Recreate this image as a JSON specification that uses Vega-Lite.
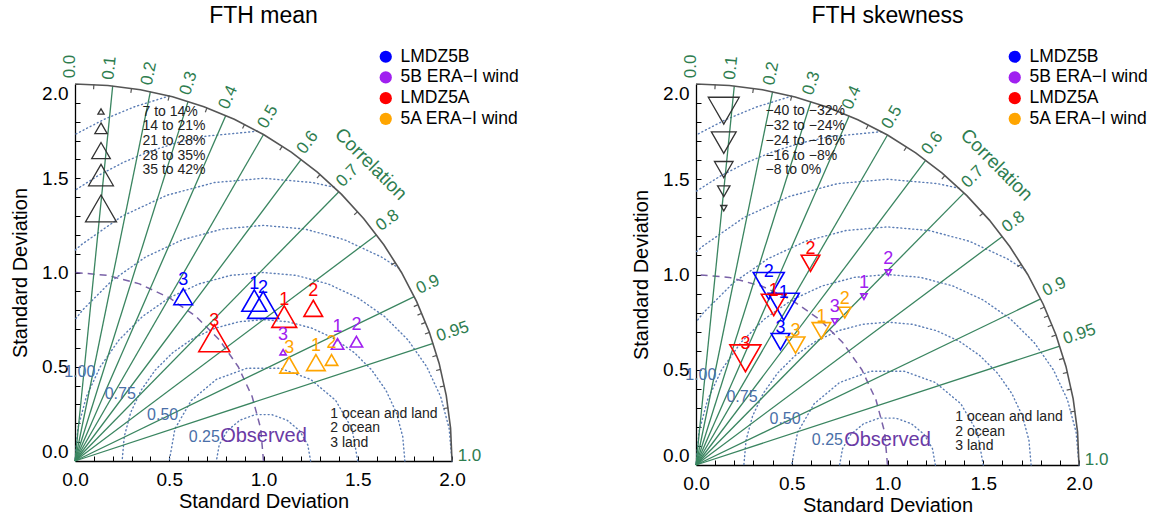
{
  "$schema": "https://vega.github.io/schema/vega-lite/v6.json",
  "autosize": {"type": "pad"},
  "padding": {"left": 10, "top": 5, "right": 4, "bottom": 2},
  "datasets": {
    "rms": [
      {"R": 0.25, "i": 0, "x": 1.25, "y": 0}, {"R": 0.25, "i": 1, "x": 1.2349, "y": 0.0855}, {"R": 0.25, "i": 2, "x": 1.1915, "y": 0.1607},
      {"R": 0.25, "i": 3, "x": 1.125, "y": 0.2165}, {"R": 0.25, "i": 4, "x": 1.0434, "y": 0.2462}, {"R": 0.25, "i": 5, "x": 0.9566, "y": 0.2462},
      {"R": 0.25, "i": 6, "x": 0.875, "y": 0.2165}, {"R": 0.25, "i": 7, "x": 0.8085, "y": 0.1607}, {"R": 0.25, "i": 8, "x": 0.7651, "y": 0.0855},
      {"R": 0.25, "i": 9, "x": 0.75, "y": 0},
      {"R": 0.5, "i": 0, "x": 1.5, "y": 0}, {"R": 0.5, "i": 1, "x": 1.4698, "y": 0.171}, {"R": 0.5, "i": 2, "x": 1.383, "y": 0.3214},
      {"R": 0.5, "i": 3, "x": 1.25, "y": 0.433}, {"R": 0.5, "i": 4, "x": 1.0868, "y": 0.4924}, {"R": 0.5, "i": 5, "x": 0.9132, "y": 0.4924},
      {"R": 0.5, "i": 6, "x": 0.75, "y": 0.433}, {"R": 0.5, "i": 7, "x": 0.617, "y": 0.3214}, {"R": 0.5, "i": 8, "x": 0.5302, "y": 0.171},
      {"R": 0.5, "i": 9, "x": 0.5, "y": 0},
      {"R": 0.75, "i": 0, "x": 1.75, "y": 0}, {"R": 0.75, "i": 1, "x": 1.7386, "y": 0.1302}, {"R": 0.75, "i": 2, "x": 1.7048, "y": 0.2565},
      {"R": 0.75, "i": 3, "x": 1.6495, "y": 0.375}, {"R": 0.75, "i": 4, "x": 1.5745, "y": 0.4821}, {"R": 0.75, "i": 5, "x": 1.4821, "y": 0.5745},
      {"R": 0.75, "i": 6, "x": 1.375, "y": 0.6495}, {"R": 0.75, "i": 7, "x": 1.2565, "y": 0.7048}, {"R": 0.75, "i": 8, "x": 1.1302, "y": 0.7386},
      {"R": 0.75, "i": 9, "x": 1, "y": 0.75}, {"R": 0.75, "i": 10, "x": 0.8698, "y": 0.7386}, {"R": 0.75, "i": 11, "x": 0.7435, "y": 0.7048},
      {"R": 0.75, "i": 12, "x": 0.625, "y": 0.6495}, {"R": 0.75, "i": 13, "x": 0.5179, "y": 0.5745}, {"R": 0.75, "i": 14, "x": 0.4255, "y": 0.4821},
      {"R": 0.75, "i": 15, "x": 0.3505, "y": 0.375}, {"R": 0.75, "i": 16, "x": 0.2952, "y": 0.2565}, {"R": 0.75, "i": 17, "x": 0.2614, "y": 0.1302},
      {"R": 0.75, "i": 18, "x": 0.25, "y": 0},
      {"R": 1, "i": 0, "x": 2, "y": 0}, {"R": 1, "i": 1, "x": 1.9848, "y": 0.1736}, {"R": 1, "i": 2, "x": 1.9397, "y": 0.342},
      {"R": 1, "i": 3, "x": 1.866, "y": 0.5}, {"R": 1, "i": 4, "x": 1.766, "y": 0.6428}, {"R": 1, "i": 5, "x": 1.6428, "y": 0.766},
      {"R": 1, "i": 6, "x": 1.5, "y": 0.866}, {"R": 1, "i": 7, "x": 1.342, "y": 0.9397}, {"R": 1, "i": 8, "x": 1.1736, "y": 0.9848},
      {"R": 1, "i": 9, "x": 1, "y": 1}, {"R": 1, "i": 10, "x": 0.8264, "y": 0.9848}, {"R": 1, "i": 11, "x": 0.658, "y": 0.9397},
      {"R": 1, "i": 12, "x": 0.5, "y": 0.866}, {"R": 1, "i": 13, "x": 0.3572, "y": 0.766}, {"R": 1, "i": 14, "x": 0.234, "y": 0.6428},
      {"R": 1, "i": 15, "x": 0.134, "y": 0.5}, {"R": 1, "i": 16, "x": 0.0603, "y": 0.342}, {"R": 1, "i": 17, "x": 0.0152, "y": 0.1736},
      {"R": 1, "i": 18, "x": 0, "y": 0},
      {"R": 1.25, "i": 0, "x": 1.71875, "y": 1.0227}, {"R": 1.25, "i": 1, "x": 1.625, "y": 1.0825}, {"R": 1.25, "i": 2, "x": 1.4275, "y": 1.1746},
      {"R": 1.25, "i": 3, "x": 1.217, "y": 1.231}, {"R": 1.25, "i": 4, "x": 1, "y": 1.25}, {"R": 1.25, "i": 5, "x": 0.783, "y": 1.231},
      {"R": 1.25, "i": 6, "x": 0.5725, "y": 1.1746}, {"R": 1.25, "i": 7, "x": 0.375, "y": 1.0825}, {"R": 1.25, "i": 8, "x": 0.1965, "y": 0.9575},
      {"R": 1.25, "i": 9, "x": 0.0425, "y": 0.8035}, {"R": 1.25, "i": 10, "x": 0, "y": 0.75},
      {"R": 1.5, "i": 0, "x": 1.375, "y": 1.4524}, {"R": 1.5, "i": 1, "x": 1.2604, "y": 1.4772}, {"R": 1.5, "i": 2, "x": 1, "y": 1.5},
      {"R": 1.5, "i": 3, "x": 0.7396, "y": 1.4772}, {"R": 1.5, "i": 4, "x": 0.487, "y": 1.4096}, {"R": 1.5, "i": 5, "x": 0.25, "y": 1.299},
      {"R": 1.5, "i": 6, "x": 0.0358, "y": 1.149}, {"R": 1.5, "i": 7, "x": 0, "y": 1.118},
      {"R": 1.75, "i": 0, "x": 0.96875, "y": 1.7497}, {"R": 1.75, "i": 1, "x": 0.6962, "y": 1.7234}, {"R": 1.75, "i": 2, "x": 0.5471, "y": 1.6903},
      {"R": 1.75, "i": 3, "x": 0.4015, "y": 1.6445}, {"R": 1.75, "i": 4, "x": 0.2605, "y": 1.586}, {"R": 1.75, "i": 5, "x": 0.125, "y": 1.5155},
      {"R": 1.75, "i": 6, "x": 0, "y": 1.4362},
      {"R": 2, "i": 0, "x": 0.5, "y": 1.9365}, {"R": 2, "i": 1, "x": 0.316, "y": 1.8794}, {"R": 2, "i": 2, "x": 0.1548, "y": 1.8126},
      {"R": 2, "i": 3, "x": 0, "y": 1.7321}
    ],
    "obs": [
      {"i": 0, "x": 1, "y": 0}, {"i": 1, "x": 0.9848, "y": 0.1736}, {"i": 2, "x": 0.9397, "y": 0.342}, {"i": 3, "x": 0.866, "y": 0.5},
      {"i": 4, "x": 0.766, "y": 0.6428}, {"i": 5, "x": 0.6428, "y": 0.766}, {"i": 6, "x": 0.5, "y": 0.866}, {"i": 7, "x": 0.342, "y": 0.9397},
      {"i": 8, "x": 0.1736, "y": 0.9848}, {"i": 9, "x": 0, "y": 1}
    ],
    "clines": [
      {"r": 0.1, "i": 0, "x": 0, "y": 0}, {"r": 0.1, "i": 1, "x": 0.2, "y": 1.99},
      {"r": 0.2, "i": 0, "x": 0, "y": 0}, {"r": 0.2, "i": 1, "x": 0.4, "y": 1.9596},
      {"r": 0.3, "i": 0, "x": 0, "y": 0}, {"r": 0.3, "i": 1, "x": 0.6, "y": 1.9079},
      {"r": 0.4, "i": 0, "x": 0, "y": 0}, {"r": 0.4, "i": 1, "x": 0.8, "y": 1.833},
      {"r": 0.5, "i": 0, "x": 0, "y": 0}, {"r": 0.5, "i": 1, "x": 1, "y": 1.7321},
      {"r": 0.6, "i": 0, "x": 0, "y": 0}, {"r": 0.6, "i": 1, "x": 1.2, "y": 1.6},
      {"r": 0.7, "i": 0, "x": 0, "y": 0}, {"r": 0.7, "i": 1, "x": 1.4, "y": 1.4283},
      {"r": 0.8, "i": 0, "x": 0, "y": 0}, {"r": 0.8, "i": 1, "x": 1.6, "y": 1.2},
      {"r": 0.9, "i": 0, "x": 0, "y": 0}, {"r": 0.9, "i": 1, "x": 1.8, "y": 0.8718},
      {"r": 0.95, "i": 0, "x": 0, "y": 0}, {"r": 0.95, "i": 1, "x": 1.9, "y": 0.6245}
    ],
    "outer": [
      {"i": 0, "x": 2, "y": 0}, {"i": 1, "x": 1.9924, "y": 0.1743}, {"i": 2, "x": 1.9696, "y": 0.3473}, {"i": 3, "x": 1.9319, "y": 0.5176},
      {"i": 4, "x": 1.8794, "y": 0.684}, {"i": 5, "x": 1.8126, "y": 0.8452}, {"i": 6, "x": 1.7321, "y": 1}, {"i": 7, "x": 1.6383, "y": 1.1472},
      {"i": 8, "x": 1.5321, "y": 1.2856}, {"i": 9, "x": 1.4142, "y": 1.4142}, {"i": 10, "x": 1.2856, "y": 1.5321}, {"i": 11, "x": 1.1472, "y": 1.6383},
      {"i": 12, "x": 1, "y": 1.7321}, {"i": 13, "x": 0.8452, "y": 1.8126}, {"i": 14, "x": 0.684, "y": 1.8794}, {"i": 15, "x": 0.5176, "y": 1.9319},
      {"i": 16, "x": 0.3473, "y": 1.9696}, {"i": 17, "x": 0.1743, "y": 1.9924}, {"i": 18, "x": 0, "y": 2}
    ],
    "aticks": [
      {"x": 0.1, "y": 1.9975, "x2": 0.09875, "y2": 1.97253},
      {"x": 0.3, "y": 1.97737, "x2": 0.29625, "y2": 1.95266},
      {"x": 0.5, "y": 1.93649, "x2": 0.49375, "y2": 1.91229},
      {"x": 0.7, "y": 1.8735, "x2": 0.69125, "y2": 1.85008},
      {"x": 0.9, "y": 1.78606, "x2": 0.88875, "y2": 1.76373},
      {"x": 1.1, "y": 1.67033, "x2": 1.08625, "y2": 1.64945},
      {"x": 1.3, "y": 1.51987, "x2": 1.28375, "y2": 1.50087},
      {"x": 1.5, "y": 1.32288, "x2": 1.48125, "y2": 1.30634},
      {"x": 1.7, "y": 1.05357, "x2": 1.67875, "y2": 1.0404},
      {"x": 1.82, "y": 0.82946, "x2": 1.79725, "y2": 0.81909},
      {"x": 1.84, "y": 0.78384, "x2": 1.817, "y2": 0.77404},
      {"x": 1.86, "y": 0.73512, "x2": 1.83675, "y2": 0.72593},
      {"x": 1.88, "y": 0.68235, "x2": 1.8565, "y2": 0.67382},
      {"x": 1.92, "y": 0.56, "x2": 1.896, "y2": 0.553},
      {"x": 1.94, "y": 0.48621, "x2": 1.91575, "y2": 0.48013},
      {"x": 1.96, "y": 0.39799, "x2": 1.9355, "y2": 0.39302},
      {"x": 1.98, "y": 0.28213, "x2": 1.95525, "y2": 0.27861}
    ],
    "clab": [
      {"t": "0.0", "theta": 90, "x": 0, "y": 2.03},
      {"t": "0.1", "theta": 84.26, "x": 0.203, "y": 2.0198},
      {"t": "0.2", "theta": 78.46, "x": 0.406, "y": 1.989},
      {"t": "0.3", "theta": 72.54, "x": 0.609, "y": 1.9365},
      {"t": "0.4", "theta": 66.42, "x": 0.812, "y": 1.8605},
      {"t": "0.5", "theta": 60, "x": 1.015, "y": 1.758},
      {"t": "0.6", "theta": 53.13, "x": 1.218, "y": 1.624},
      {"t": "0.7", "theta": 45.57, "x": 1.421, "y": 1.4497},
      {"t": "0.8", "theta": 36.87, "x": 1.624, "y": 1.218},
      {"t": "0.9", "theta": 25.84, "x": 1.827, "y": 0.8849},
      {"t": "0.95", "theta": 18.19, "x": 1.9285, "y": 0.6339},
      {"t": "1.0", "theta": 0, "x": 2.03, "y": 0}
    ],
    "corrword": [{"t": "Correlation", "x": 1.57, "y": 1.575}],
    "rmslab": [
      {"t": "1.00", "x": 0.025, "y": 0.473},
      {"t": "0.75", "x": 0.24, "y": 0.355},
      {"t": "0.50", "x": 0.465, "y": 0.242},
      {"t": "0.25", "x": 0.686, "y": 0.129}
    ],
    "observed": [{"t": "Observed", "x": 1.0, "y": 0.13}],
    "regions": [
      {"t": "1 ocean and land", "x": 1.354, "y": 0.251},
      {"t": "2 ocean", "x": 1.354, "y": 0.173},
      {"t": "3 land", "x": 1.354, "y": 0.098}
    ],
    "sizeTxtMean": [
      {"t": "7 to 14%", "x": 0.358, "y": 1.854},
      {"t": "14 to 21%", "x": 0.358, "y": 1.778},
      {"t": "21 to 28%", "x": 0.358, "y": 1.7},
      {"t": "28 to 35%", "x": 0.358, "y": 1.62},
      {"t": "35 to 42%", "x": 0.358, "y": 1.544}
    ],
    "sizeSymMean": [
      {"cls": 1, "x": 0.138, "y": 1.854},
      {"cls": 2, "x": 0.138, "y": 1.765},
      {"cls": 3, "x": 0.138, "y": 1.647},
      {"cls": 4, "x": 0.138, "y": 1.517},
      {"cls": 5, "x": 0.138, "y": 1.34}
    ],
    "sizeTxtSkew": [
      {"t": "−40 to −32%", "x": 0.363, "y": 1.858},
      {"t": "−32 to −24%", "x": 0.363, "y": 1.782},
      {"t": "−24 to −16%", "x": 0.363, "y": 1.703},
      {"t": "−16 to −8%", "x": 0.363, "y": 1.624},
      {"t": "−8 to 0%", "x": 0.363, "y": 1.549}
    ],
    "sizeSymSkew": [
      {"cls": 5, "x": 0.145, "y": 1.86},
      {"cls": 4, "x": 0.145, "y": 1.692},
      {"cls": 3, "x": 0.145, "y": 1.551},
      {"cls": 2, "x": 0.145, "y": 1.437},
      {"cls": 1, "x": 0.145, "y": 1.348}
    ],
    "mean": [
      {"m": "LMDZ5B", "reg": "1", "x": 0.951, "y": 0.851, "cls": 4},
      {"m": "LMDZ5B", "reg": "2", "x": 0.998, "y": 0.828, "cls": 5},
      {"m": "LMDZ5B", "reg": "3", "x": 0.574, "y": 0.872, "cls": 3},
      {"m": "LMDZ5A", "reg": "1", "x": 1.11, "y": 0.766, "cls": 4},
      {"m": "LMDZ5A", "reg": "2", "x": 1.264, "y": 0.81, "cls": 3},
      {"m": "LMDZ5A", "reg": "3", "x": 0.739, "y": 0.651, "cls": 5},
      {"m": "5B ERA−I wind", "reg": "1", "x": 1.393, "y": 0.621, "cls": 2},
      {"m": "5B ERA−I wind", "reg": "2", "x": 1.493, "y": 0.633, "cls": 2},
      {"m": "5B ERA−I wind", "reg": "3", "x": 1.104, "y": 0.577, "cls": 1},
      {"m": "5A ERA−I wind", "reg": "1", "x": 1.278, "y": 0.522, "cls": 3},
      {"m": "5A ERA−I wind", "reg": "2", "x": 1.361, "y": 0.536, "cls": 2},
      {"m": "5A ERA−I wind", "reg": "3", "x": 1.136, "y": 0.509, "cls": 3}
    ],
    "skew": [
      {"m": "LMDZ5B", "reg": "1", "x": 0.458, "y": 0.831, "cls": 5},
      {"m": "LMDZ5B", "reg": "2", "x": 0.38, "y": 0.94, "cls": 5},
      {"m": "LMDZ5B", "reg": "3", "x": 0.441, "y": 0.648, "cls": 3},
      {"m": "LMDZ5A", "reg": "1", "x": 0.406, "y": 0.84, "cls": 4},
      {"m": "LMDZ5A", "reg": "2", "x": 0.598, "y": 1.059, "cls": 3},
      {"m": "LMDZ5A", "reg": "3", "x": 0.258, "y": 0.56, "cls": 5},
      {"m": "5B ERA−I wind", "reg": "1", "x": 0.877, "y": 0.884, "cls": 1},
      {"m": "5B ERA−I wind", "reg": "2", "x": 1.004, "y": 1.01, "cls": 1},
      {"m": "5B ERA−I wind", "reg": "3", "x": 0.725, "y": 0.754, "cls": 1},
      {"m": "5A ERA−I wind", "reg": "1", "x": 0.655, "y": 0.705, "cls": 3},
      {"m": "5A ERA−I wind", "reg": "2", "x": 0.777, "y": 0.8, "cls": 2},
      {"m": "5A ERA−I wind", "reg": "3", "x": 0.52, "y": 0.63, "cls": 3}
    ]
  },
  "hconcat": [
    {
      "width": 377,
      "height": 377,
      "title": {"text": "FTH mean", "frame": "group", "anchor": "middle", "offset": 20},
      "encoding": {
        "x": {
          "field": "x", "type": "quantitative",
          "scale": {"domain": [0, 2], "nice": false},
          "axis": {
            "title": "Standard Deviation",
            "values": [0, 0.1, 0.2, 0.3, 0.4, 0.5, 0.6, 0.7, 0.8, 0.9, 1, 1.1, 1.2, 1.3, 1.4, 1.5, 1.6, 1.7, 1.8, 1.9, 2],
            "labelExpr": "abs(datum.value * 2 - round(datum.value * 2)) < 0.01 ? format(datum.value, '.1f') : ''",
            "tickSize": -5, "labelPadding": 14, "labelFlush": false, "labelOverlap": false, "titlePadding": 2
          }
        },
        "y": {
          "field": "y", "type": "quantitative",
          "scale": {"domain": [0, 2], "nice": false},
          "axis": {
            "title": "Standard Deviation",
            "values": [0, 0.1, 0.2, 0.3, 0.4, 0.5, 0.6, 0.7, 0.8, 0.9, 1, 1.1, 1.2, 1.3, 1.4, 1.5, 1.6, 1.7, 1.8, 1.9, 2],
            "labelExpr": "abs(datum.value * 2 - round(datum.value * 2)) < 0.01 ? format(datum.value, '.1f') : ''",
            "tickSize": -5, "labelPadding": 12, "labelFlush": true, "labelOverlap": false, "titlePadding": 11
          }
        }
      },
      "layer": [
        {"data": {"name": "rms"}, "mark": {"type": "line", "color": "#5b7db5", "strokeDash": [1, 3], "strokeWidth": 1.4, "strokeCap": "round"}, "encoding": {"detail": {"field": "R"}, "order": {"field": "i"}}},
        {"data": {"name": "obs"}, "mark": {"type": "line", "color": "#7a62a8", "strokeDash": [7, 5], "strokeWidth": 1.5}, "encoding": {"order": {"field": "i"}}},
        {"data": {"name": "clines"}, "mark": {"type": "line", "color": "#3a8560", "strokeWidth": 1.3}, "encoding": {"detail": {"field": "r"}, "order": {"field": "i"}}},
        {"data": {"name": "outer"}, "mark": {"type": "line", "color": "#555555", "strokeWidth": 1.6}, "encoding": {"order": {"field": "i"}}},
        {"data": {"name": "aticks"}, "mark": {"type": "rule", "color": "#555555", "strokeWidth": 1.2}, "encoding": {"x2": {"field": "x2"}, "y2": {"field": "y2"}}},
        {"data": {"name": "clab"}, "mark": {"type": "text", "align": "left", "baseline": "alphabetic", "fontSize": 17, "color": "#2e7d4f"},
         "encoding": {"text": {"field": "t"}, "angle": {"field": "theta", "type": "quantitative", "scale": {"domain": [0, 90], "range": [0, -90]}}}},
        {"data": {"name": "corrword"}, "mark": {"type": "text", "angle": 45, "fontSize": 19, "color": "#2e7d4f"}, "encoding": {"text": {"field": "t"}}},
        {"data": {"name": "rmslab"}, "mark": {"type": "text", "fontSize": 16, "color": "#4a6fa8"}, "encoding": {"text": {"field": "t"}}},
        {"data": {"name": "observed"}, "mark": {"type": "text", "fontSize": 20, "color": "#6a3aa5"}, "encoding": {"text": {"field": "t"}}},
        {"data": {"name": "regions"}, "mark": {"type": "text", "align": "left", "fontSize": 14, "color": "#222222"}, "encoding": {"text": {"field": "t"}}},
        {"data": {"name": "sizeTxtMean"}, "mark": {"type": "text", "align": "left", "fontSize": 14, "color": "#222222"}, "encoding": {"text": {"field": "t"}}},
        {"data": {"name": "sizeSymMean"}, "mark": {"type": "point", "shape": "M0,-0.866L1,0.866L-1,0.866Z", "filled": false, "color": "#333333", "strokeWidth": 1.3, "opacity": 1},
         "encoding": {"size": {"field": "cls", "type": "quantitative", "scale": {"type": "pow", "exponent": 2, "domain": [0, 5], "range": [0, 961]}, "legend": null}}},
        {"data": {"name": "mean"}, "mark": {"type": "point", "shape": "M0,-0.866L1,0.866L-1,0.866Z", "filled": false, "strokeWidth": 1.6, "opacity": 1},
         "encoding": {
           "stroke": {"field": "m", "type": "nominal", "scale": {"domain": ["LMDZ5B", "5B ERA−I wind", "LMDZ5A", "5A ERA−I wind"], "range": ["#0000ff", "#a020f0", "#ff0000", "#ffa500"]}, "legend": null},
           "size": {"field": "cls", "type": "quantitative", "scale": {"type": "pow", "exponent": 2, "domain": [0, 5], "range": [0, 961]}, "legend": null}
         }},
        {"data": {"name": "mean"}, "mark": {"type": "text", "fontSize": 18, "dy": -17},
         "encoding": {
           "text": {"field": "reg"},
           "color": {"field": "m", "type": "nominal", "scale": {"domain": ["LMDZ5B", "5B ERA−I wind", "LMDZ5A", "5A ERA−I wind"], "range": ["#0000ff", "#a020f0", "#ff0000", "#ffa500"]},
             "legend": {"title": null, "orient": "none", "legendX": 302, "legendY": -36, "padding": 0, "symbolType": "circle", "symbolSize": 150, "symbolStrokeWidth": 0, "symbolOpacity": 1, "labelFontSize": 17.5, "labelOffset": 6, "rowPadding": 1.7}}
         }}
      ]
    },
    {
      "width": 383,
      "height": 381,
      "title": {"text": "FTH skewness", "frame": "group", "anchor": "middle", "offset": 20},
      "encoding": {
        "x": {
          "field": "x", "type": "quantitative",
          "scale": {"domain": [0, 2], "nice": false},
          "axis": {
            "title": "Standard Deviation",
            "values": [0, 0.1, 0.2, 0.3, 0.4, 0.5, 0.6, 0.7, 0.8, 0.9, 1, 1.1, 1.2, 1.3, 1.4, 1.5, 1.6, 1.7, 1.8, 1.9, 2],
            "labelExpr": "abs(datum.value * 2 - round(datum.value * 2)) < 0.01 ? format(datum.value, '.1f') : ''",
            "tickSize": -5, "labelPadding": 14, "labelFlush": false, "labelOverlap": false, "titlePadding": 2
          }
        },
        "y": {
          "field": "y", "type": "quantitative",
          "scale": {"domain": [0, 2], "nice": false},
          "axis": {
            "title": "Standard Deviation",
            "values": [0, 0.1, 0.2, 0.3, 0.4, 0.5, 0.6, 0.7, 0.8, 0.9, 1, 1.1, 1.2, 1.3, 1.4, 1.5, 1.6, 1.7, 1.8, 1.9, 2],
            "labelExpr": "abs(datum.value * 2 - round(datum.value * 2)) < 0.01 ? format(datum.value, '.1f') : ''",
            "tickSize": -5, "labelPadding": 12, "labelFlush": true, "labelOverlap": false, "titlePadding": 11
          }
        }
      },
      "layer": [
        {"data": {"name": "rms"}, "mark": {"type": "line", "color": "#5b7db5", "strokeDash": [1, 3], "strokeWidth": 1.4, "strokeCap": "round"}, "encoding": {"detail": {"field": "R"}, "order": {"field": "i"}}},
        {"data": {"name": "obs"}, "mark": {"type": "line", "color": "#7a62a8", "strokeDash": [7, 5], "strokeWidth": 1.5}, "encoding": {"order": {"field": "i"}}},
        {"data": {"name": "clines"}, "mark": {"type": "line", "color": "#3a8560", "strokeWidth": 1.3}, "encoding": {"detail": {"field": "r"}, "order": {"field": "i"}}},
        {"data": {"name": "outer"}, "mark": {"type": "line", "color": "#555555", "strokeWidth": 1.6}, "encoding": {"order": {"field": "i"}}},
        {"data": {"name": "aticks"}, "mark": {"type": "rule", "color": "#555555", "strokeWidth": 1.2}, "encoding": {"x2": {"field": "x2"}, "y2": {"field": "y2"}}},
        {"data": {"name": "clab"}, "mark": {"type": "text", "align": "left", "baseline": "alphabetic", "fontSize": 17, "color": "#2e7d4f"},
         "encoding": {"text": {"field": "t"}, "angle": {"field": "theta", "type": "quantitative", "scale": {"domain": [0, 90], "range": [0, -90]}}}},
        {"data": {"name": "corrword"}, "mark": {"type": "text", "angle": 45, "fontSize": 19, "color": "#2e7d4f"}, "encoding": {"text": {"field": "t"}}},
        {"data": {"name": "rmslab"}, "mark": {"type": "text", "fontSize": 16, "color": "#4a6fa8"}, "encoding": {"text": {"field": "t"}}},
        {"data": {"name": "observed"}, "mark": {"type": "text", "fontSize": 20, "color": "#6a3aa5"}, "encoding": {"text": {"field": "t"}}},
        {"data": {"name": "regions"}, "mark": {"type": "text", "align": "left", "fontSize": 14, "color": "#222222"}, "encoding": {"text": {"field": "t"}}},
        {"data": {"name": "sizeTxtSkew"}, "mark": {"type": "text", "align": "left", "fontSize": 14, "color": "#222222"}, "encoding": {"text": {"field": "t"}}},
        {"data": {"name": "sizeSymSkew"}, "mark": {"type": "point", "shape": "M0,0.866L1,-0.866L-1,-0.866Z", "filled": false, "color": "#333333", "strokeWidth": 1.3, "opacity": 1},
         "encoding": {"size": {"field": "cls", "type": "quantitative", "scale": {"type": "pow", "exponent": 2, "domain": [0, 5], "range": [0, 961]}, "legend": null}}},
        {"data": {"name": "skew"}, "mark": {"type": "point", "shape": "M0,0.866L1,-0.866L-1,-0.866Z", "filled": false, "strokeWidth": 1.6, "opacity": 1},
         "encoding": {
           "stroke": {"field": "m", "type": "nominal", "scale": {"domain": ["LMDZ5B", "5B ERA−I wind", "LMDZ5A", "5A ERA−I wind"], "range": ["#0000ff", "#a020f0", "#ff0000", "#ffa500"]}, "legend": null},
           "size": {"field": "cls", "type": "quantitative", "scale": {"type": "pow", "exponent": 2, "domain": [0, 5], "range": [0, 961]}, "legend": null}
         }},
        {"data": {"name": "skew"}, "mark": {"type": "text", "fontSize": 18, "dy": -14},
         "encoding": {
           "text": {"field": "reg"},
           "color": {"field": "m", "type": "nominal", "scale": {"domain": ["LMDZ5B", "5B ERA−I wind", "LMDZ5A", "5A ERA−I wind"], "range": ["#0000ff", "#a020f0", "#ff0000", "#ffa500"]},
             "legend": {"title": null, "orient": "none", "legendX": 310, "legendY": -36, "padding": 0, "symbolType": "circle", "symbolSize": 150, "symbolStrokeWidth": 0, "symbolOpacity": 1, "labelFontSize": 17.5, "labelOffset": 6, "rowPadding": 1.7}}
         }}
      ]
    }
  ],
  "spacing": 244,
  "bounds": "flush",
  "resolve": {"legend": {"color": "independent"}},
  "config": {
    "font": "Liberation Sans",
    "view": {"stroke": null},
    "axis": {
      "grid": false, "domainColor": "#000000", "domainWidth": 1.3, "tickColor": "#000000", "tickWidth": 1,
      "labelColor": "#000000", "labelFontSize": 19, "titleColor": "#000000", "titleFontSize": 20, "titleFontWeight": "normal"
    },
    "title": {"fontSize": 23, "fontWeight": "normal", "color": "#000000"},
    "legend": {"labelColor": "#000000"}
  }
}
